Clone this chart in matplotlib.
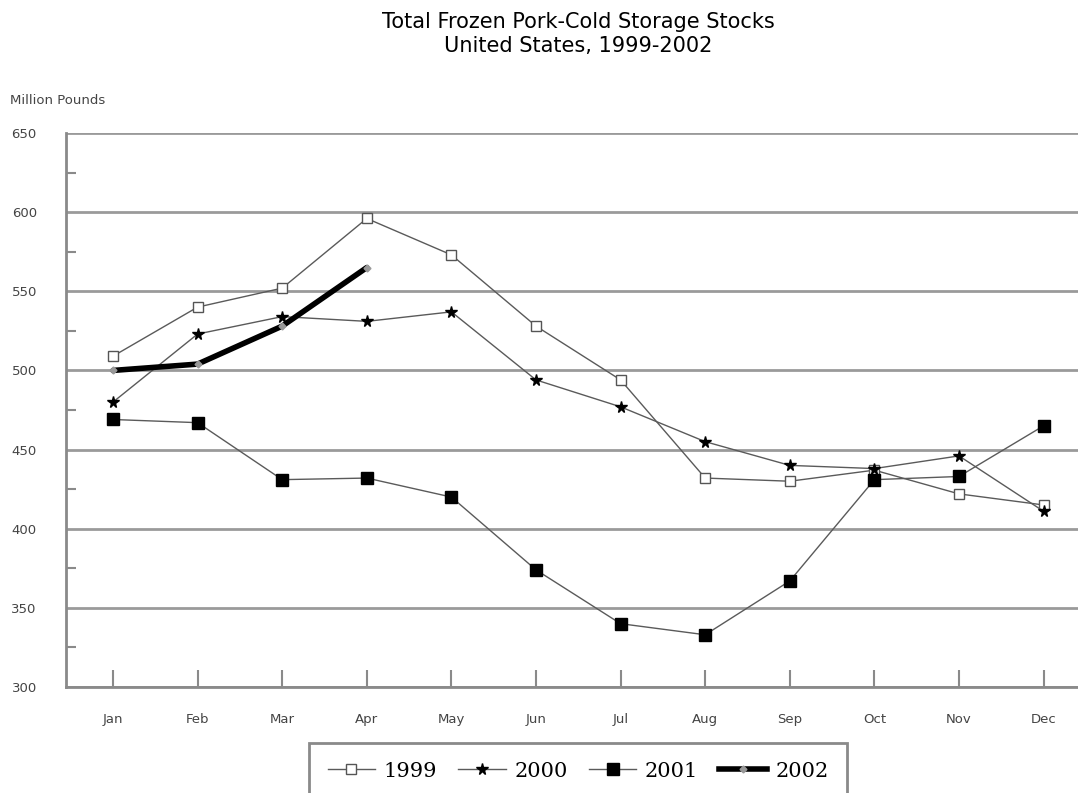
import matplotlib
matplotlib.use("Agg")
import matplotlib.pyplot as plt
from matplotlib.lines import Line2D
from matplotlib.ticker import MultipleLocator

months = ["Jan", "Feb", "Mar", "Apr", "May", "Jun", "Jul", "Aug", "Sep", "Oct", "Nov", "Dec"]
stocks_1999 = [509, 540, 552, 596, 573, 528, 494, 432, 430, 437, 422, 415]
stocks_2000 = [480, 523, 534, 531, 537, 494, 477, 455, 440, 438, 446, 411]
stocks_2001 = [469, 467, 431, 432, 420, 374, 340, 333, 367, 431, 433, 465]
stocks_2002 = [500, 504, 528, 565]
series_names = ["1999", "2000", "2001", "2002"]

W, H = 1078, 793
fig = plt.figure(figsize=(W / 100, H / 100), dpi=100)
ax = fig.add_axes([66 / W, 1 - 687 / H, 1 - 66 / W, (687 - 133) / H])

x = list(range(len(months)))
x02 = x[:len(stocks_2002)]
lc = "#5a5a5a"

style_1999 = dict(color=lc, lw=1.0, marker="s", ms=7, mfc="white", mec="#555555", mew=1.0)
style_2000 = dict(color=lc, lw=1.0, marker="*", ms=8.5, mfc="black", mec="black")
style_2001 = dict(color=lc, lw=1.0, marker="s", ms=8.5, mfc="black", mec="black")
style_2002 = dict(color="black", lw=4, marker="D", ms=3.5, mfc="#999999", mec="#999999")

ax.plot(x, stocks_1999, zorder=3, **style_1999)
ax.plot(x, stocks_2000, zorder=3, **style_2000)
ax.plot(x, stocks_2001, zorder=3, **style_2001)
ax.plot(x02, stocks_2002, zorder=4, solid_capstyle="round",
        solid_joinstyle="round", **style_2002)

ax.set_xlim(-47 / 84.6, (W - 113) / 84.6)
ax.set_ylim(300, 650)
ax.set_xticks(x)
ax.set_xticklabels(months)
ax.yaxis.set_major_locator(MultipleLocator(50))
ax.yaxis.set_minor_locator(MultipleLocator(25))
ax.grid(axis="y", which="major", color="#9a9a9a", lw=2, zorder=1)
ax.set_axisbelow(True)

for s in ["top", "right"]:
    ax.spines[s].set_visible(False)
for s in ["left", "bottom"]:
    ax.spines[s].set_color("#8a8a8a")
    ax.spines[s].set_linewidth(2)

ax.tick_params(axis="x", direction="in", length=12, width=1.5, color="#8a8a8a",
               pad=19, labelsize=9.5, labelcolor="#444444")
ax.tick_params(axis="y", which="major", length=0, pad=21, labelsize=9.5,
               labelcolor="#444444")
ax.tick_params(axis="y", which="minor", direction="in", length=7, width=1.5,
               color="#8a8a8a")

fig.text(10 / W, 1 - 100 / H, "Million Pounds", fontsize=9.5, color="#444444",
         ha="left", va="center")
fig.text(578 / W, 1 - 22 / H, "Total Frozen Pork-Cold Storage Stocks",
         fontsize=15, ha="center", va="center", color="black")
fig.text(578 / W, 1 - 46 / H, "United States, 1999-2002",
         fontsize=15, ha="center", va="center", color="black")

handles = [Line2D([], [], **style_1999), Line2D([], [], **style_2000),
           Line2D([], [], **style_2001), Line2D([], [], **style_2002)]
leg = fig.legend(handles, series_names, loc="upper center",
                 bbox_to_anchor=(578 / W, 1 - 743 / H), ncol=4,
                 prop={"family": "DejaVu Serif", "size": 15},
                 handlelength=2.3, handletextpad=0.4, columnspacing=1.0,
                 borderpad=0.9, borderaxespad=0, frameon=True, fancybox=False,
                 framealpha=1)
leg.get_frame().set_edgecolor("#8a8a8a")
leg.get_frame().set_linewidth(2)

fig.savefig("out.png", dpi=100)
